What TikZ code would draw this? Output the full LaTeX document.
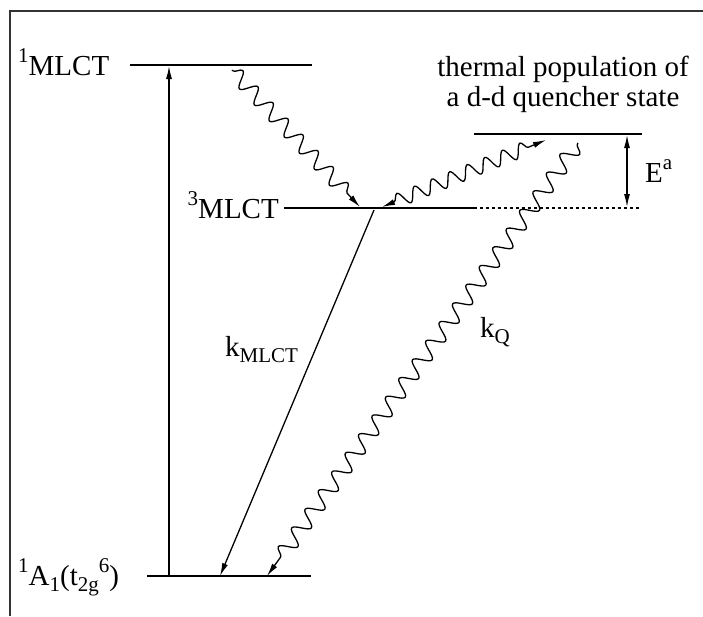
\documentclass[tikz,border=0pt]{standalone}
\usepackage{fontspec}
\setmainfont{Liberation Serif}
\newfontfamily\tms{Liberation Serif}
\newcommand\upx[1]{\raisebox{0.42em}{\fontsize{21}{21}\selectfont #1}}
\newcommand\dnx[1]{\raisebox{-0.22em}{\fontsize{21}{21}\selectfont #1}}
\usetikzlibrary{arrows.meta,decorations.pathmorphing}
\begin{document}
\begin{tikzpicture}[x=1pt,y=-1pt,
  lvl/.style={line width=1.4pt},
  arr/.style={line width=1.3pt,-{Latex[length=13pt,width=6pt]}},
  wavy/.style={line width=1.3pt,decorate,decoration={snake,amplitude=7.5pt,segment length=22pt,post length=13pt,pre length=1pt}},
  lbl/.style={inner sep=0pt,font=\tms\fontsize{29}{34}\selectfont},
]
\useasboundingbox (0,0) rectangle (703,616);
\fill[white] (0,0) rectangle (703,616);
% frame
\draw[line width=1.3pt,black!80] (10,616) -- (10,11) -- (703,11);
% levels
\coordinate (s1L) at (130,65); \coordinate (s1R) at (312,65);
\coordinate (t1L) at (284,208); \coordinate (t1M) at (474,208); \coordinate (t1R) at (641,208);
\coordinate (qL) at (474,134); \coordinate (qR) at (642,134);
\coordinate (gL) at (147,576); \coordinate (gR) at (311,576);
\draw[lvl] (s1L) -- (s1R);
\draw[lvl] (t1L) -- (t1M);
\draw[line width=1.1pt,dash pattern=on 3pt off 3pt] (t1M) -- (t1R);
\draw[lvl] (qL) -- (qR);
\draw[lvl] (gL) -- (gR);
% labels
\node[lbl,anchor=base west] (l1) at (18,75) {\upx{1}MLCT};
\node[lbl,anchor=base east] (l3) at (279,218) {\upx{3}MLCT};
\node[lbl,anchor=base west] (lg) at (18,585) {\upx{1}A\dnx{1}(t\dnx{2g}\upx{6})};
\node[lbl,anchor=base] (th1) at (563,76) {thermal population of};
\node[lbl,anchor=base] (th2) at (563,106) {a d-d quencher state};
\node[lbl,anchor=base west] (ea) at (645,182) {E\upx{a}};
\node[lbl,anchor=base west] (kml) at (225,356) {k\dnx{MLCT}};
\node[lbl,anchor=base west] (kq) at (480,337) {k\dnx{Q}};
% excitation arrow
\coordinate (exB) at (169,576); \coordinate (exT) at (169,66);
\draw[arr] (exB) -- (exT);
% E^a arrow
\coordinate (eaT) at (627,135); \coordinate (eaB) at (627,207);
\draw[line width=1.3pt,{Latex[length=13pt,width=6pt]}-{Latex[length=13pt,width=6pt]}] (eaT) -- (eaB);
% k_MLCT
\coordinate (kmS) at (374,210); \coordinate (kmE) at (220,576);
\draw[arr] (kmS) -- (kmE);
% wavy 1MLCT -> 3MLCT
\coordinate (w1s) at (232,70); \coordinate (w1e) at (360,207);
\draw[wavy,-{Latex[length=13pt,width=6pt]}] (w1s) -- (w1e);
% double wavy
\coordinate (w2a) at (382,207); \coordinate (w2b) at (546,140);
\draw[line width=1.3pt,decorate,decoration={snake,amplitude=7pt,segment length=19pt,post length=13pt,pre length=13pt},{Latex[length=13pt,width=6pt]}-{Latex[length=13pt,width=6pt]}] (w2a) -- (w2b);
% kQ wavy
\coordinate (w3s) at (578,143); \coordinate (w3e) at (267,576);
\draw[wavy,decoration={amplitude=8pt,segment length=23pt},-{Latex[length=13pt,width=6pt]}] (w3s) -- (w3e);
\end{tikzpicture}
\end{document}
